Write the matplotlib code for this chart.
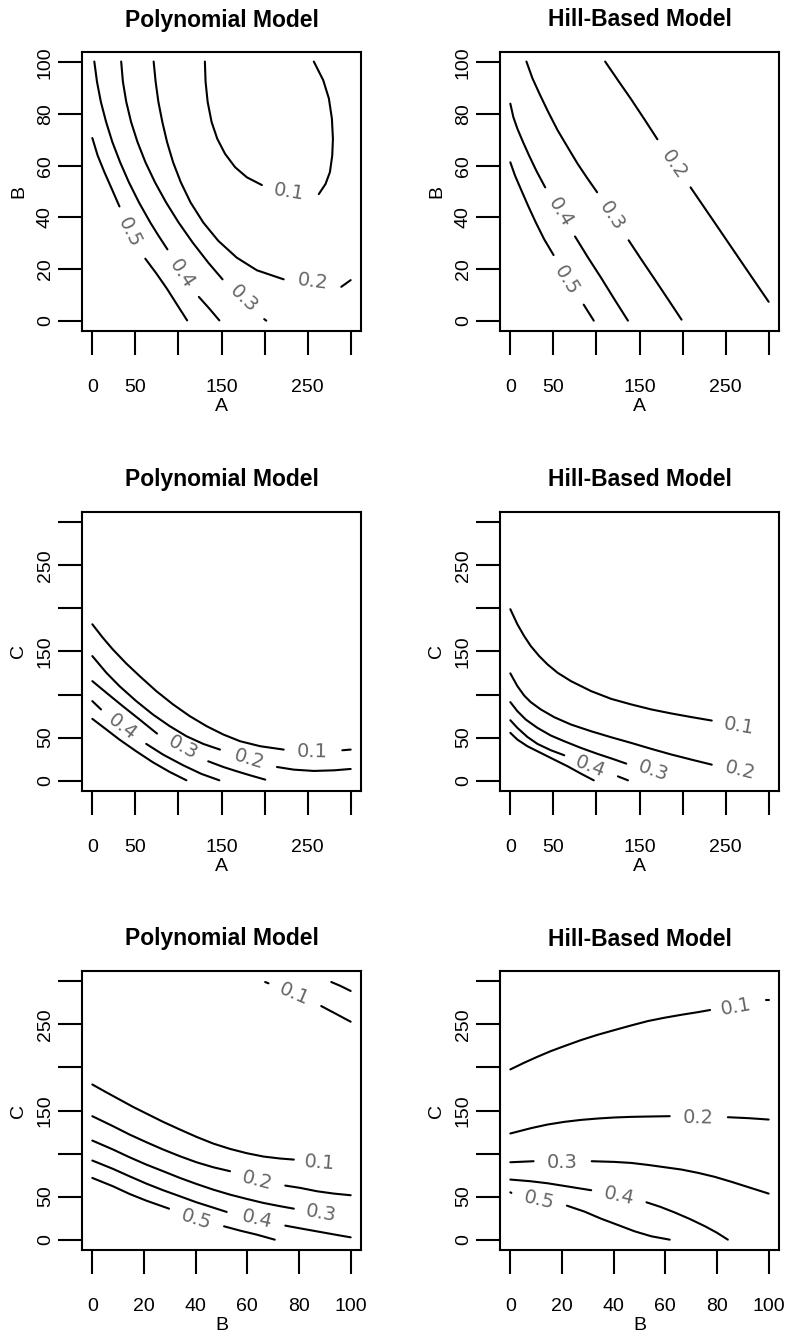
import math
import matplotlib
matplotlib.use('Agg')
import matplotlib.pyplot as plt

plt.rcParams['font.family'] = ['Liberation Sans', 'DejaVu Sans']

# axis ticks (R drops the labels that would overlap)
a_ticks = [0, 50, 100, 150, 200, 250, 300]
a_ticklabels = ['0', '50', '', '150', '', '250', '']
b_ticks = [0, 20, 40, 60, 80, 100]
b_ticklabels = ['0', '20', '40', '60', '80', '100']
c_ticks = [0, 50, 100, 150, 200, 250, 300]
c_ticklabels = ['0', '50', '', '150', '', '250', '']

titles = ['Polynomial Model', 'Hill-Based Model']

# contour lines: one group per contour, each group is a list
# of pieces (the gaps are where R put the label); labels are (x, y, text) or None

# Polynomial model, A vs B
poly_ab_lines = [
    [[(130.7, 100.3), (131.5, 92.5), (133.9, 84.7), (138.5, 76.9), (145.1, 70.4), (154.1, 64.6),
      (165.8, 59.4), (179.4, 55.5), (196.9, 52.5)],
     [(263, 49), (270.8, 52.9), (275.9, 57.5), (278.6, 63.9), (279.4, 70.4), (278.2, 78.2),
      (274.7, 86), (268.1, 93.1), (257.2, 100.3)]],
    [[(71.2, 100.3), (73.5, 92.5), (76.7, 84.7), (81.3, 76.9), (86.8, 69.1), (93.8, 61.3),
      (102.7, 53.6), (114, 45.8), (128.8, 38), (146.3, 30.9), (167.7, 24.4), (191.1, 19.5), (222.2, 16)],
     [(289.1, 13.1), (300, 15.7)]],
    [[(33.5, 100.3), (35.5, 92.5), (39.4, 84.7), (45, 76.9), (52.5, 69.1), (61.7, 61.3),
      (72.7, 53.6), (85.6, 45.8), (100.2, 38), (116.6, 30.2), (134.8, 22.4), (151.2, 16)],
     [(199.6, 0.6), (202, 0)]],
    [[(2.3, 100.3), (5.4, 92.5), (9.9, 84.7), (16, 76.9), (23.3, 69.1), (32.3, 61.3),
      (42.4, 53.6), (54.1, 45.8), (67.3, 38), (77, 32.8), (87.2, 27.6)],
     [(123.7, 9.2), (135.8, 4.7), (147.5, 0.1)]],
    [[(0, 70.7), (6.2, 63.9), (14, 57.5), (22.6, 51), (31.5, 44.2)],
     [(61.5, 24), (74.3, 18.3), (86.8, 12.3), (98.4, 6.2), (110.1, 0.1)]],
]
poly_ab_labels = [(228, 50, '0.1'), (256, 15, '0.2'), (176, 8.5, '0.3'),
                  (103.5, 18, '0.4'), (43, 34, '0.5')]

# Hill-based model, A vs B
hill_ab_lines = [
    [[(110.1, 100.3), (124.9, 93.1), (140.5, 85.6), (156, 77.8), (170.8, 70.2)],
     [(209.3, 51.6), (233.9, 39.6), (257.2, 28.2), (280.5, 16.8), (300, 7.3)]],
    [[(18.7, 100.3), (25.7, 93.8), (34.6, 87.3), (44, 80.8), (54.9, 73.7), (66.5, 67.2),
      (78.2, 60.7), (89.9, 54.9), (100.8, 49.7)],
     [(137.4, 31.1), (152.1, 23.7), (167.7, 16), (183.3, 8.2), (198.8, 0.4)]],
    [[(0, 84), (3.5, 78.8), (8.2, 74.3), (14.8, 69.1), (21.8, 63.9), (30.7, 57.7), (40.5, 51.6)],
     [(75.1, 32.6), (89.9, 24.6), (105.4, 16.6), (121, 8.2), (136.6, 0)]],
    [[(0, 61.3), (5.4, 56.2), (12.1, 51), (20.6, 44.5), (29.6, 38), (39.3, 31.5), (50.2, 25.4)],
     [(85.2, 6.2), (96.9, 0)]],
]
hill_ab_labels = [(190, 60.4, '0.2'), (118.3, 40.6, '0.3'), (58, 41.9, '0.4'), (65.8, 15.7, '0.5')]

# Polynomial model, A vs C
poly_ac_lines = [
    [[(0, 181.6), (12.1, 166.1), (23.7, 152.5), (39.3, 136.2), (54.9, 121.5), (74.3, 104),
      (93.8, 88.5), (113.2, 74.9), (132.7, 63.3), (152.1, 53.6), (171.6, 45.8), (195, 40), (222.2, 36.1)],
     [(290.3, 35.3), (300, 36.1)]],
    [[(0, 144.7), (16.3, 125.3), (31.5, 109.8), (51, 92.4), (70.4, 76.8), (89.9, 63.3),
      (109.3, 51.6), (128.8, 42.7), (148.2, 36.1)],
     [(214.4, 15.9), (233.9, 12.8), (257.2, 11.3), (280.5, 12), (300, 13.6)]],
    [[(0, 115.6), (16.3, 102.1), (35.4, 86.5), (54.9, 71), (75.1, 54.7)],
     [(134.6, 22.5), (152.1, 15.9), (167.7, 10.9), (183.3, 6.2), (200.8, 1.2)]],
    [[(0, 92.4), (10.1, 82.7)],
     [(62.6, 42.7), (82.1, 30.3), (105.4, 17.9), (126.8, 7.8), (147.5, 0.4)]],
    [[(0, 71.8), (16.3, 59.4), (31.5, 47.7), (51, 34.1), (70.4, 21.3), (89.9, 10.1), (109.3, 0.4)]],
]
poly_ac_labels = [(254.9, 34.1, '0.1'), (182.1, 24.4, '0.2'), (104.7, 38, '0.3'),
                  (35.4, 62.5, '0.4'), None]

# Hill-based model, A vs C
hill_ac_lines = [
    [[(0, 199.1), (8.2, 181.6), (16, 168), (23.7, 156.4), (33.5, 144.7), (43.2, 135), (54.9, 125.3),
      (70.4, 115.6), (93.8, 104), (117.1, 95), (140.5, 88.5), (163.8, 82.7), (187.2, 78),
      (210.5, 73.8), (233.9, 69.8)]],
    [[(0, 124.6), (8.2, 109.8), (16, 98.9), (23.7, 91.2), (35.4, 82.7), (51, 73.7), (70.4, 65.2),
      (93.8, 57.4), (117.1, 50.4), (140.5, 43.8), (163.8, 36.9), (187.2, 30.3), (210.5, 24.4),
      (233.9, 18.6)]],
    [[(0, 91.2), (8.2, 80.7), (17.9, 71), (31.5, 61.3), (47.1, 52.4), (62.6, 45.8), (82.1, 38),
      (101.6, 31), (119.1, 25.2), (134.6, 19.8)]],
    [[(0, 70.2), (8.2, 61.3), (19.8, 50.8), (31.5, 42.7), (47.1, 35.3), (62.6, 29.5)],
     [(124.9, 5), (136.6, 0.4)]],
    [[(0, 55.5), (8.2, 47.7), (19.8, 40), (35.4, 32.2), (51, 24.4), (66.5, 16.7), (82.1, 8.1),
      (96.9, 0.4)]],
]
hill_ac_labels = [(265.8, 63.3, '0.1'), (266.9, 11.6, '0.2'), (165.8, 10.9, '0.3'),
                  (93, 16.7, '0.4'), None]

# Polynomial model, B vs C
poly_bc_lines = [
    [[(0, 180.2), (5.3, 171.3), (10.5, 162.8), (15.7, 154.3), (20.9, 146.5), (27.4, 136.8),
      (33.9, 127.9), (40.3, 119.4), (46.8, 111.6), (53.3, 105.4), (59.8, 100.4), (66.3, 96.5),
      (72.8, 94.2), (78, 93)]],
    [[(66.9, 299.2), (68.2, 297.7)],
     [(88.6, 271.3), (94.2, 262.4), (100, 253.1)]],
    [[(92.5, 299.2), (96.1, 294.6), (100, 288.8)]],
    [[(0, 143.4), (8, 131.8), (14.4, 122.1), (20.9, 113.2), (27.4, 104.7), (33.9, 96.9),
      (40.3, 89.9), (46.8, 84.1), (53.3, 79.5)],
     [(74.7, 62.8), (80.5, 60.1), (87, 56.2), (93.5, 53.5), (100, 51.6)]],
    [[(0, 115.1), (8, 104.7), (14.4, 95.7), (20.9, 87.2), (27.4, 79.5), (33.9, 71.7), (40.3, 64.7),
      (46.8, 58.1), (53.3, 52.3), (59.8, 47.3), (66.3, 42.6), (72.8, 38.8), (78, 36)]],
    [[(0, 91.9), (8, 82.2), (14.4, 73.6), (20.9, 65.1), (27.4, 57.4), (33.9, 50.4), (40.3, 43.4),
      (46.8, 37.2), (52, 32.2)],
     [(74.7, 16.3), (81.8, 12.4), (88.3, 8.9), (94.8, 5.4), (100, 2.7)]],
    [[(0, 71.7), (8, 62), (14.4, 53.1), (20.9, 45.3), (29.7, 36)],
     [(51, 15.5), (57.2, 10.5), (63.7, 5.8), (70.6, 0)]],
]
poly_bc_labels = [(88.1, 89.1, '0.1'), (78, 284.9, '0.1'), None, (63.8, 69, '0.2'),
                  (88.6, 31, '0.3'), (63.9, 23.3, '0.4'), (40.2, 24, '0.5')]

# Hill-based model, B vs C
hill_bc_lines = [
    [[(0, 197.7), (5.3, 205.4), (10.5, 212.4), (15.7, 219), (20.9, 224.8), (27.4, 231.8),
      (33.9, 238), (40.3, 243.4), (46.8, 248.8), (53.3, 253.9), (59.8, 257.8), (66.3, 261.2),
      (72.8, 264.3), (77.3, 266.7)],
     [(99.1, 278.3), (100, 278.3)]],
    [[(0, 123.3), (8, 129.5), (14.4, 133.7), (20.9, 136.8), (27.4, 139.1), (33.9, 140.7),
      (40.3, 141.9), (46.8, 142.6), (53.3, 143), (61.7, 143.4)],
     [(84.2, 142.2), (92.2, 141.1), (100, 139.5)]],
    [[(0, 89.9), (9, 91.1)],
     [(31.5, 91.1), (40.3, 90.3), (46.8, 89.1), (53.3, 86.8), (59.8, 84.1), (66.3, 81.4),
      (72.8, 77.5), (79.2, 72.9), (85.7, 67.1), (92.2, 60.9), (100, 53.5)]],
    [[(0, 69.8), (8, 67.8), (14.4, 65.5), (20.9, 62.4), (31.3, 57.4)],
     [(52.7, 43.4), (58, 38.2), (63.7, 31.5), (69.5, 24), (75.4, 15.5), (80, 8), (84.2, 0)]],
    [[(0, 55), (0.4, 54.3)],
     [(21.9, 39.5), (28.7, 32.6), (35.1, 24.4), (41.6, 17.1), (48.1, 9.7), (54.6, 3.9), (61.7, 0)]],
]
hill_bc_labels = [(87.4, 270.5, '0.1'), (72.8, 141.5, '0.2'), (20.2, 89.9, '0.3'),
                  (41.9, 50.4, '0.4'), (11.2, 45.7, '0.5')]


def r_lim(ticks):
    # R pads the data range by 4% on each side
    lo, hi = min(ticks), max(ticks)
    return lo - 0.04 * (hi - lo), hi + 0.04 * (hi - lo)


def label_angle(ax, pieces, x, y):
    # follow the contour across the gap the label sits in
    to_px = ax.transData.transform
    lx, ly = to_px((x, y))
    ends = []
    for k, piece in enumerate(pieces):
        for idx in (0, -1):
            px, py = to_px(piece[idx])
            ends.append((math.hypot(px - lx, py - ly), k, idx))
    ends.sort()
    _, k0, i0 = ends[0]
    other = [e for e in ends if e[1] != k0]
    if other:
        p = to_px(pieces[k0][i0])
        q = to_px(pieces[other[0][1]][other[0][2]])
    else:
        piece = pieces[k0]
        if i0 == -1:
            p, q = to_px(piece[-2]), to_px(piece[-1])
        else:
            p, q = to_px(piece[1]), to_px(piece[0])
    ang = math.degrees(math.atan2(q[1] - p[1], q[0] - p[0]))
    if ang > 90:
        ang -= 180
    if ang <= -90:
        ang += 180
    return ang


W, H = 787, 1340
fig = plt.figure(figsize=(W / 100, H / 100), dpi=100)


def panel(left, top, title, lines, labels, xticks, xtl, xname, yticks, ytl, yname):
    bw, bh = 279, 279
    ax = fig.add_axes([left / W, 1 - (top + bh) / H, bw / W, bh / H])
    ax.set_xlim(*r_lim(xticks))
    ax.set_ylim(*r_lim(yticks))
    for pieces, lab in zip(lines, labels):
        for piece in pieces:
            xs, ys = zip(*piece)
            ax.plot(xs, ys, color='black', lw=1.5, solid_capstyle='round', solid_joinstyle='round')
        if lab is None:
            continue
        x, y, txt = lab
        ang = label_angle(ax, pieces, x, y)
        ax.text(x, y, txt, rotation=ang, rotation_mode='anchor', ha='center', va='center',
                fontsize=14, color='#666666', family='DejaVu Sans')

    ax.set_xticks(xticks)
    ax.set_xticklabels(xtl)
    ax.set_yticks(yticks)
    ax.set_yticklabels(ytl, rotation=90, va='center')
    ax.tick_params(direction='out', length=17.3, width=1.5, labelsize=14, color='black')
    ax.tick_params(axis='x', pad=17)
    ax.tick_params(axis='y', pad=3)
    for sp in ax.spines.values():
        sp.set_linewidth(1.5)

    ax.set_xlabel(xname, fontsize=14, va='center')
    ax.xaxis.set_label_coords(0.5, -75.5 / bh)
    ax.set_ylabel(yname, fontsize=14, va='center')
    ax.yaxis.set_label_coords(-63 / bw, 0.5)
    ax.set_title(title, fontsize=16.5, fontweight='bold', y=1 + 25.5 / bh, pad=0)
    return ax


panel(82, 52, titles[0], poly_ab_lines, poly_ab_labels, a_ticks, a_ticklabels, 'A', b_ticks, b_ticklabels, 'B')
panel(500, 52, titles[1], hill_ab_lines, hill_ab_labels, a_ticks, a_ticklabels, 'A', b_ticks, b_ticklabels, 'B')
panel(82, 512, titles[0], poly_ac_lines, poly_ac_labels, a_ticks, a_ticklabels, 'A', c_ticks, c_ticklabels, 'C')
panel(500, 512, titles[1], hill_ac_lines, hill_ac_labels, a_ticks, a_ticklabels, 'A', c_ticks, c_ticklabels, 'C')
panel(82, 971, titles[0], poly_bc_lines, poly_bc_labels, b_ticks, b_ticklabels, 'B', c_ticks, c_ticklabels, 'C')
panel(500, 971, titles[1], hill_bc_lines, hill_bc_labels, b_ticks, b_ticklabels, 'B', c_ticks, c_ticklabels, 'C')

fig.savefig('out.png', dpi=100)
